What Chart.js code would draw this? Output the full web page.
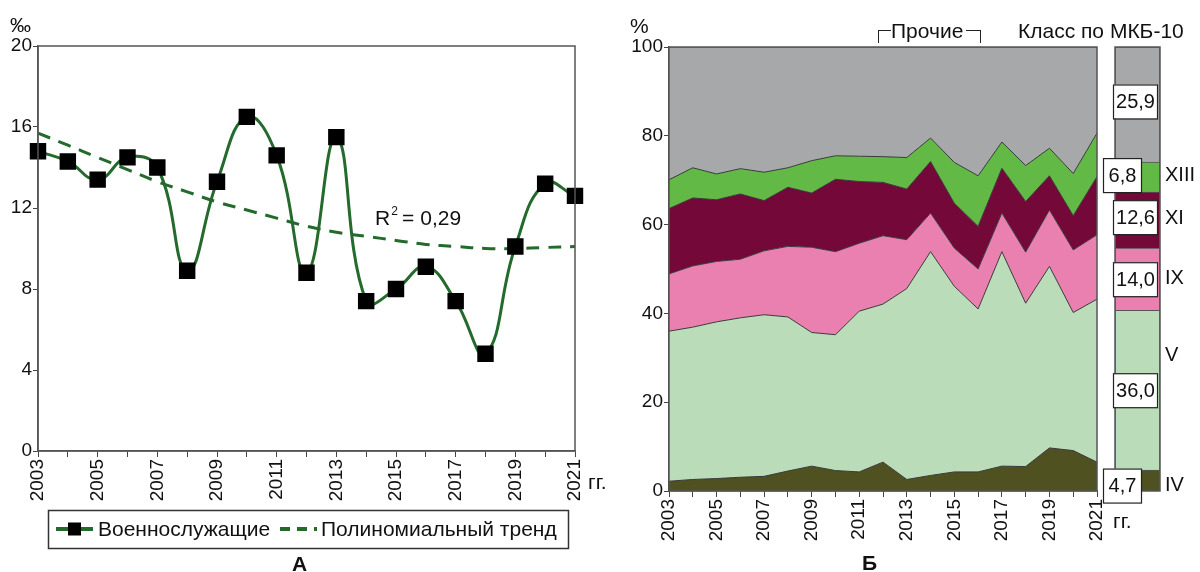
<!DOCTYPE html>
<html>
<head>
<meta charset="utf-8">
<script src="https://cdn.jsdelivr.net/npm/chart.js@4.4.0/dist/chart.umd.min.js"></script>
<style>
body{margin:0;background:#fff;width:1200px;height:572px;overflow:hidden;position:relative;font-family:"Liberation Sans",Arial,sans-serif;color:#111}
.box{position:absolute;top:0;height:572px}
.t{position:absolute;font-size:21px;line-height:1;white-space:nowrap}
.br{position:absolute;top:30px;width:12px;height:12px;border-top:1px solid #222}
</style>
</head>
<body>
<div class="box" style="left:0;width:600px"><canvas id="chartA"></canvas></div>
<div class="box" style="left:600px;width:520px"><canvas id="chartB"></canvas></div>
<div class="box" style="left:1100px;width:100px"><canvas id="chartC"></canvas></div>

<div class="t" style="left:10px;top:14px">‰</div>
<div class="t" style="left:588px;top:471px">гг.</div>
<div class="t" style="left:292px;top:553px;font-weight:bold">А</div>

<div class="t" style="left:630px;top:15px">%</div>
<div class="br" style="left:878px;border-left:1px solid #222"></div>
<div class="t" style="left:891px;top:20px">Прочие</div>
<div class="br" style="left:966px;width:14px;border-right:1px solid #222"></div>
<div class="t" style="left:1018px;top:20px">Класс по МКБ-10</div>
<div class="t" style="left:1113px;top:510px">гг.</div>
<div class="t" style="left:862px;top:552px;font-weight:bold">Б</div>

<script>
// ---- data ----
var years = ["2003","2004","2005","2006","2007","2008","2009","2010","2011","2012",
             "2013","2014","2015","2016","2017","2018","2019","2020","2021"];

// incidence among servicemen, per mille
var militaryRate = [14.8, 14.3, 13.4, 14.5, 14.0, 8.9, 13.3, 16.5, 14.6, 8.8,
                    15.5, 7.4, 8.0, 9.1, 7.4, 4.8, 10.1, 13.2, 12.6];
// polynomial trend
var trendRate = [15.7, 15.1, 14.5, 13.9, 13.3, 12.8, 12.3, 11.9, 11.5, 11.1,
                 10.8, 10.6, 10.4, 10.2, 10.1, 10.0, 10.0, 10.05, 10.1];
var trendR2 = "0,29";

// structure by ICD-10 class, % (bottom to top)
var classNames = ["IV", "V", "IX", "XI", "XIII", "Прочие"];
var shareIV   = [2.2, 2.6, 2.8, 3.1, 3.3, 4.5, 5.6, 4.6, 4.3, 6.5, 2.6, 3.5, 4.3, 4.3, 5.6, 5.5, 9.7, 9.1, 6.5];
var shareV    = [33.8, 34.3, 35.3, 35.9, 36.4, 34.7, 30.1, 30.6, 36.2, 35.6, 43.0, 50.4, 41.8, 36.7, 48.3, 36.8, 40.9, 31.1, 36.7];
var shareIX   = [12.9, 13.8, 13.6, 13.2, 14.4, 15.9, 19.2, 18.7, 15.3, 15.4, 11.0, 8.7, 8.6, 9.0, 8.7, 11.5, 12.7, 14.1, 14.5];
var shareXI   = [14.7, 15.3, 13.9, 14.7, 11.3, 13.3, 12.2, 16.3, 13.9, 12.0, 11.4, 11.6, 10.1, 9.6, 10.1, 11.4, 7.7, 7.7, 13.1];
var shareXIII = [6.5, 6.8, 5.8, 5.7, 6.4, 4.4, 7.3, 5.3, 5.7, 5.8, 7.1, 5.3, 9.2, 11.4, 5.9, 8.1, 6.2, 9.5, 9.8];
var shareOther= [29.9, 27.2, 28.6, 27.4, 28.2, 27.2, 25.6, 24.5, 24.6, 24.7, 24.9, 20.5, 26.0, 29.0, 21.4, 26.7, 22.8, 28.5, 19.4];

// summary column for the whole period
var totalShare = [4.7, 36.0, 14.0, 12.6, 6.8, 25.9];
var totalLabels = ["4,7", "36,0", "14,0", "12,6", "6,8", "25,9"];

// ---- styles ----
var classColors = ["#4f5120", "#badcb8", "#ea80b0", "#740838", "#63b946", "#a6a8a9"];
var greenLine = "#246a2d";
var tickFont = {family: "Liberation Sans", size: 19};

function oddYearLabel(val, idx)
{
    return idx % 2 === 0 ? this.getLabelForValue(val) : "";
}

var framePlugin = {
    id: "frame",
    afterDatasetsDraw: function(chart){
        var a = chart.chartArea, ctx = chart.ctx;
        ctx.save();
        ctx.strokeStyle = "#555";
        ctx.lineWidth = 1.5;
        ctx.strokeRect(a.left, a.top, a.right - a.left, a.bottom - a.top);
        ctx.restore();
    }
};

// R^2 label and legend box for chart A
var annotA = {
    id: "annotA",
    afterDraw: function(chart){
        var ctx = chart.ctx;
        var xs = chart.scales.x, ys = chart.scales.y;
        ctx.save();
        ctx.fillStyle = "#111";
        ctx.textBaseline = "alphabetic";
        var px = xs.getPixelForValue(11.3), py = ys.getPixelForValue(11.15);
        ctx.font = "21px 'Liberation Sans'";
        ctx.fillText("R", px, py);
        var w = ctx.measureText("R").width;
        ctx.font = "12px 'Liberation Sans'";
        ctx.fillText("2", px + w + 1, py - 10);
        ctx.font = "21px 'Liberation Sans'";
        ctx.fillText(" = " + trendR2, px + w + 6, py);

        // legend
        ctx.strokeStyle = "#333";
        ctx.lineWidth = 1.5;
        ctx.strokeRect(48.5, 510.5, 520, 38);
        var ds = chart.data.datasets;
        var cy = 529;
        ctx.lineWidth = 4;
        ctx.strokeStyle = ds[0].borderColor;
        ctx.beginPath(); ctx.moveTo(56, cy); ctx.lineTo(93, cy); ctx.stroke();
        ctx.fillStyle = "#000";
        ctx.fillRect(68, cy - 6.5, 13, 13);
        ctx.strokeStyle = ds[1].borderColor;
        ctx.setLineDash([10, 7]);
        ctx.beginPath(); ctx.moveTo(280, cy); ctx.lineTo(317, cy); ctx.stroke();
        ctx.setLineDash([]);
        ctx.fillStyle = "#111";
        ctx.font = "21px 'Liberation Sans'";
        ctx.textBaseline = "middle";
        ctx.fillText(ds[0].label, 98, cy + 1);
        ctx.fillText(ds[1].label, 321, cy + 1);
        ctx.restore();
    }
};

var chartA = new Chart(document.getElementById("chartA"), {
    type: "line",
    data: {
        labels: years,
        datasets: [{
            label: "Военнослужащие",
            data: militaryRate,
            borderColor: greenLine,
            borderWidth: 3,
            tension: 0.45,
            pointStyle: "rect",
            pointRadius: 9.5,
            pointBackgroundColor: "#000",
            pointBorderColor: "#000",
            clip: false
        }, {
            label: "Полиномиальный тренд",
            data: trendRate,
            borderColor: greenLine,
            borderWidth: 3,
            borderDash: [13, 9],
            tension: 0.4,
            pointRadius: 0
        }]
    },
    options: {
        responsive: true,
        maintainAspectRatio: false,
        animation: false,
        layout: {padding: {top: 46, right: 25, left: 0, bottom: 0}},
        plugins: {legend: {display: false}, tooltip: {enabled: false}},
        scales: {
            x: {
                offset: false,
                grid: {drawOnChartArea: false, tickLength: 6, color: "#444"},
                border: {color: "#555", width: 1.5},
                ticks: {font: tickFont, color: "#111", autoSkip: false, minRotation: 90, maxRotation: 90, padding: 2, callback: oddYearLabel},
                afterFit: function(s){ s.height = 121; }
            },
            y: {
                min: 0, max: 20,
                grid: {drawOnChartArea: false, tickLength: 5, color: "#444"},
                border: {color: "#555", width: 1.5},
                ticks: {font: tickFont, color: "#111", stepSize: 4, padding: 1},
                afterFit: function(s){ s.width = 38; }
            }
        }
    },
    plugins: [framePlugin, annotA]
});

// ---- chart B: stacked areas ----
var shareSeries = [shareIV, shareV, shareIX, shareXI, shareXIII, shareOther];
var areaSets = shareSeries.map(function(arr, i){
    return {
        label: classNames[i],
        data: arr,
        backgroundColor: classColors[i],
        borderColor: "#3a3a3a",
        borderWidth: 1,
        fill: i === 0 ? "origin" : "-1",
        pointRadius: 0,
        tension: 0
    };
});

var chartB = new Chart(document.getElementById("chartB"), {
    type: "line",
    data: {labels: years, datasets: areaSets},
    options: {
        responsive: true,
        maintainAspectRatio: false,
        animation: false,
        layout: {padding: {top: 47, right: 23, left: 0, bottom: 0}},
        plugins: {legend: {display: false}, tooltip: {enabled: false}},
        scales: {
            x: {
                offset: false,
                grid: {drawOnChartArea: false, tickLength: 6, color: "#444"},
                border: {color: "#444", width: 1.5},
                ticks: {font: tickFont, color: "#111", autoSkip: false, minRotation: 90, maxRotation: 90, padding: 2, callback: oddYearLabel},
                afterFit: function(s){ s.height = 81; s.paddingRight = 0; }
            },
            y: {
                stacked: true,
                min: 0, max: 100,
                grid: {drawOnChartArea: false, tickLength: 5, color: "#444"},
                border: {color: "#444", width: 1.5},
                ticks: {font: tickFont, color: "#111", stepSize: 20, padding: 1},
                afterFit: function(s){ s.width = 69; }
            }
        }
    },
    plugins: [framePlugin]
});

// ---- chart C: summary column ----
var boxShift = [-10, 0, 0, 0, -10, 0];   // x shift of value boxes
var boxDy = [5, 0, 0, -3, -2, -3];        // y shift of value boxes
var romanDy = [5, -35, -1, -2, -2, 0];    // y shift of class numerals

var labelsC = {
    id: "labelsC",
    afterDraw: function(chart){
        var ctx = chart.ctx;
        ctx.save();
        ctx.font = "20px 'Liberation Sans'";
        ctx.textBaseline = "middle";
        chart.data.datasets.forEach(function(ds, i){
            var bar = chart.getDatasetMeta(i).data[0];
            var cy = (bar.y + bar.base) / 2;
            var bx = 13 + boxShift[i], by = cy + boxDy[i];
            var bw = boxShift[i] < 0 ? 38 : 44;
            ctx.fillStyle = "#fff";
            ctx.fillRect(bx, by - 17, bw, 34);
            ctx.strokeStyle = "#222";
            ctx.lineWidth = 1.2;
            ctx.strokeRect(bx + 0.5, by - 16.5, bw, 34);
            ctx.fillStyle = "#111";
            ctx.textAlign = "center";
            ctx.fillText(totalLabels[i], bx + bw / 2 + 0.5, by + 1);
            if (i < 5) {
                ctx.textAlign = "left";
                ctx.fillText(classNames[i], 65, cy + romanDy[i]);
            }
        });
        ctx.restore();
    }
};

var chartC = new Chart(document.getElementById("chartC"), {
    type: "bar",
    data: {
        labels: ["2003-2021"],
        datasets: totalShare.map(function(v, i){
            return {
                label: classNames[i],
                data: [v],
                backgroundColor: classColors[i],
                borderColor: "#555",
                borderWidth: 1,
                barPercentage: 1,
                categoryPercentage: 1
            };
        })
    },
    options: {
        responsive: true,
        maintainAspectRatio: false,
        animation: false,
        layout: {padding: {top: 47, right: 40, left: 15, bottom: 81}},
        plugins: {legend: {display: false}, tooltip: {enabled: false}},
        scales: {
            x: {stacked: true, display: false},
            y: {stacked: true, display: false, min: 0, max: 100}
        }
    },
    plugins: [framePlugin, labelsC]
});
</script>
</body>
</html>
